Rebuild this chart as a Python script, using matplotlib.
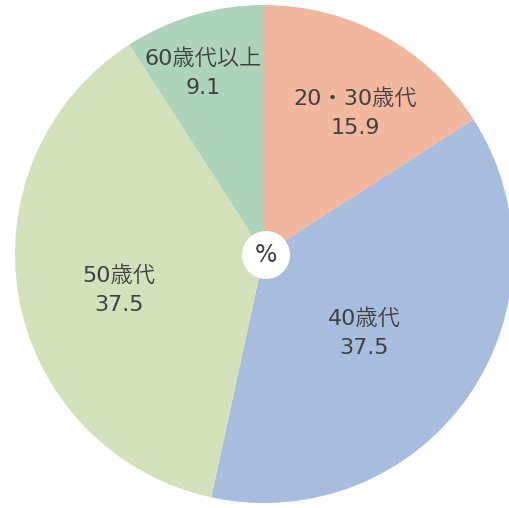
import matplotlib
matplotlib.use("Agg")
import matplotlib.pyplot as plt
from matplotlib.patches import Circle

plt.rcParams['font.family'] = ['DejaVu Sans', 'Noto Sans CJK JP']

categories = ["20・30歳代", "40歳代", "50歳代", "60歳代以上"]
values = [15.9, 37.5, 37.5, 9.1]
colors = ["#F2B89F", "#A8BDDE", "#D3E1BA", "#ADD4BA"]

fig = plt.figure(figsize=(5.10, 5.08), dpi=100)
ax = fig.add_axes([0, 0, 1, 1])

cx, cy, r = 264, 254, 249
ax.pie(values, colors=colors, startangle=90, counterclock=False,
       center=(cx, cy), radius=r, wedgeprops=dict(linewidth=0),
       frame=True)
ax.set_xlim(0, 510)
ax.set_ylim(0, 508)
ax.set_aspect('equal')
ax.axis('off')

label_pos = [(355, 508 - 113), (364, 508 - 333), (119, 508 - 290), (203, 508 - 73)]
for (x, y), cat, v in zip(label_pos, categories, values):
    ax.text(x, y, f"{cat}\n{v}", ha='center', va='center', fontsize=16,
            color='#404040', linespacing=1.55, fontweight=350)

ax.add_patch(Circle((266, 253), 24, facecolor='white', edgecolor='none', zorder=5))
ax.text(266, 253, "%", ha='center', va='center', fontsize=17, color='#404040',
        zorder=6, fontweight=350)

fig.savefig("out.png", dpi=100)
